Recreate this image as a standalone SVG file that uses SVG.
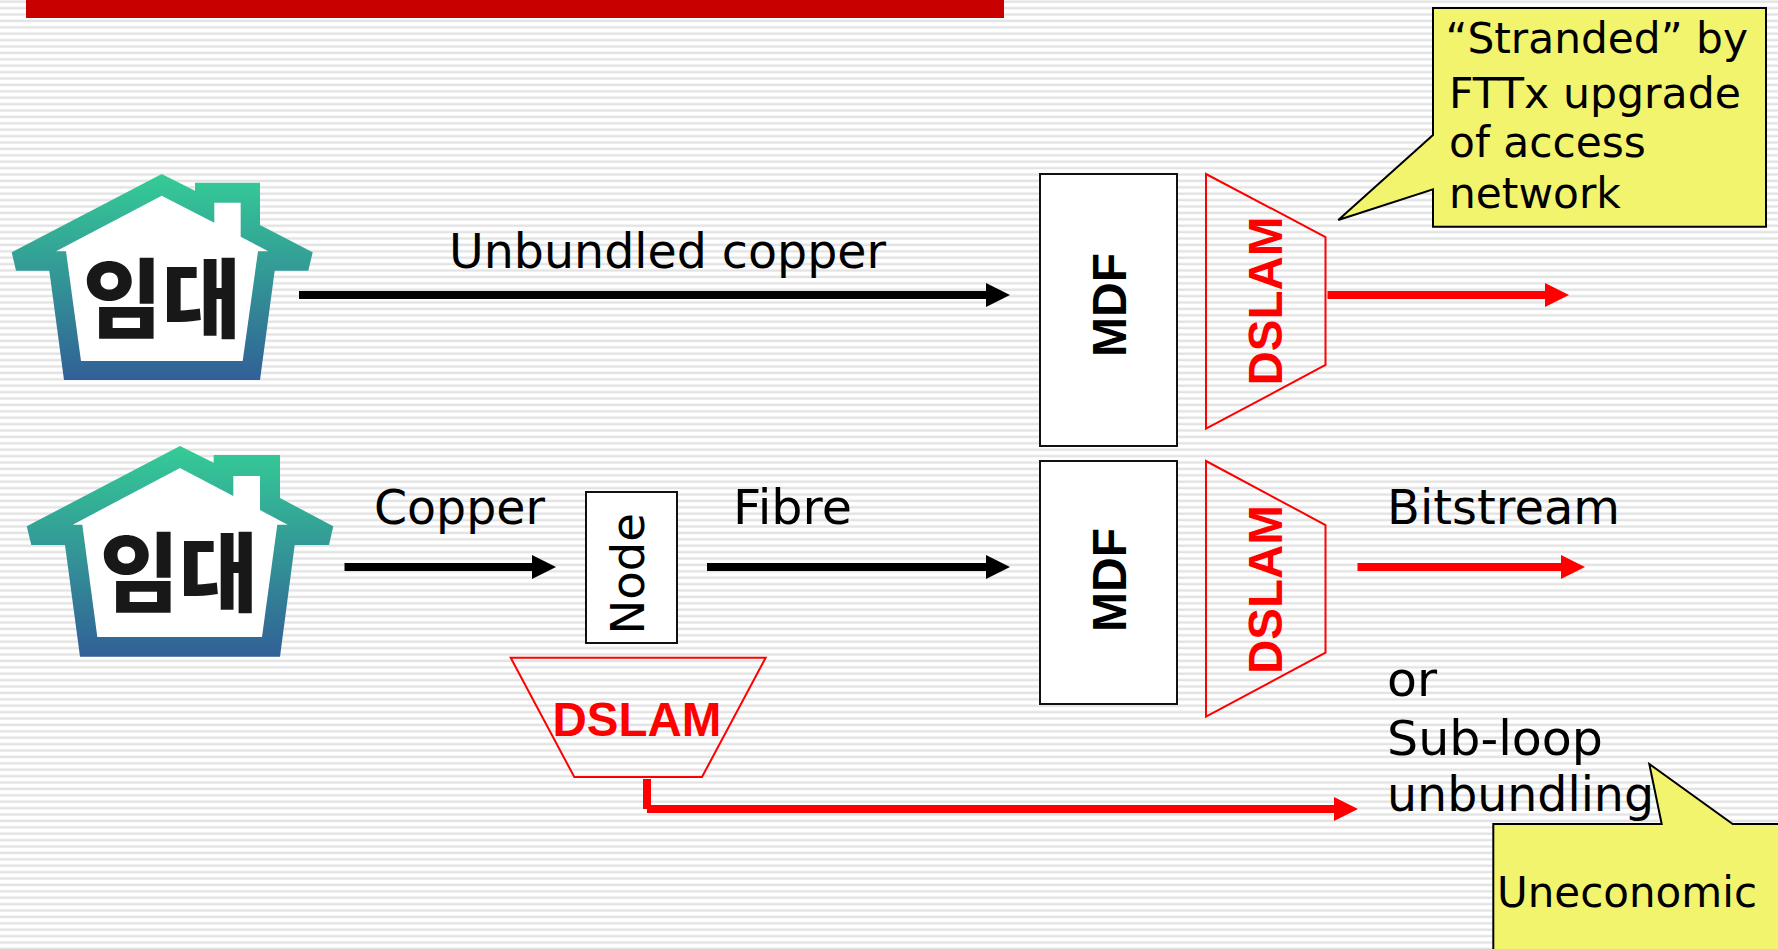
<svg xmlns="http://www.w3.org/2000/svg" width="1778" height="949" viewBox="0 0 1778 949">
<style>
text{font-family:"DejaVu Sans","Noto Sans",sans-serif;fill:#000}
.lbl{font-size:47.500px}
.cal{font-size:42.300px}
.b{font-family:"Liberation Sans",Arial,sans-serif;font-weight:700;font-size:47.500px}
.red{fill:#f00}
.box{fill:#fff;stroke:#111;stroke-width:2}
.dslam{fill:none;stroke:#f00;stroke-width:2}
.callout{fill:#f2f46e;stroke:#000;stroke-width:2}
.k{font-family:"Noto Sans CJK KR",sans-serif;font-weight:900;font-size:86px;fill:#181818}
.blk{stroke:#000;stroke-width:8;fill:none}
.rl{stroke:#f00;stroke-width:8;fill:none}
.in{fill:#fff}
</style>
<defs>
<pattern id="st" width="10" height="6.4" patternUnits="userSpaceOnUse">
<rect width="10" height="6.4" fill="#fff"/>
<rect y="0.5" width="10" height="2.4" fill="#e3e3e3"/>
</pattern>
<linearGradient id="hg" x1="0" y1="0" x2="0" y2="1"><stop offset="0" stop-color="#35cc96"/><stop offset="1" stop-color="#316097"/></linearGradient>
<marker id="ab" markerUnits="userSpaceOnUse" markerWidth="24" markerHeight="24" refX="0" refY="12" orient="auto"><path d="M0 0L24 12L0 24Z" fill="#000"/></marker>
<marker id="ar" markerUnits="userSpaceOnUse" markerWidth="24" markerHeight="24" refX="0" refY="12" orient="auto"><path d="M0 0L24 12L0 24Z" fill="#f00"/></marker>
</defs>
<rect width="1778" height="949" fill="url(#st)"/>
<rect x="26" y="0" width="978" height="18" fill="#c80000"/>
<g id="house1">
<path class="in" d="M161.700 195.700L214.300 222.700V202.700H240.700V236.700L268.300 251.300H258L242.700 361H81L66 251.300H56Z"/>
<path fill="url(#hg)" fill-rule="evenodd" d="M161.700 174L195 190.700V182.700H260V225L312.700 252.300L308.300 270.700H274.700L260 380H64L49.300 270.700H16L11.700 252.300ZM161.700 195.700L214.300 222.700V202.700H240.700V236.700L268.300 251.300H258L242.700 361H81L66 251.300H56Z"/>
<text class="k" x="83" y="331">임대</text>
</g>
<g id="house2">
<path class="in" d="M180 468L233.300 496V476H260V510L287.700 524.700H277.300L262 637H97.300L82.300 524.700H72.700Z"/>
<path fill="url(#hg)" fill-rule="evenodd" d="M180 446L213.700 462.700V455H280V498L333.300 526.300L329 545H294.700L280 656.700H80L65 545H31.300L26.700 526.300ZM180 468L233.300 496V476H260V510L287.700 524.700H277.300L262 637H97.300L82.300 524.700H72.700Z"/>
<text class="k" x="100" y="605">임대</text>
</g>
<g id="mdf1"><rect class="box" x="1040" y="174" width="137" height="272"/><text class="b" style="font-size:48px" transform="translate(1125.500 357) rotate(-90)">MDF</text></g>
<g id="dslam1"><polygon class="dslam" points="1206,174 1325.500,237 1325.500,365 1206,428.700"/><text class="b red" transform="translate(1282 385.500) rotate(-90)">DSLAM</text></g>
<g id="mdf2"><rect class="box" x="1040" y="461" width="137" height="243"/><text class="b" style="font-size:48px" transform="translate(1125.500 632) rotate(-90)">MDF</text></g>
<g id="dslam2"><polygon class="dslam" points="1206,461 1325.500,525 1325.500,652.700 1206,716.700"/><text class="b red" transform="translate(1282 674) rotate(-90)">DSLAM</text></g>
<g id="node"><rect class="box" x="586" y="492" width="91" height="151"/><text class="lbl" style="font-size:46.500px" transform="translate(644 634.500) rotate(-90)">Node</text></g>
<g id="dslam3"><polygon class="dslam" points="510.700,657.700 765.700,657.700 702,777 574.300,777"/><text class="b red" x="552.500" y="736">DSLAM</text></g>
<g id="connectors">
<path class="blk" d="M299 295H986" marker-end="url(#ab)"/>
<path class="blk" d="M344.500 567H532" marker-end="url(#ab)"/>
<path class="blk" d="M707 567H986" marker-end="url(#ab)"/>
<path class="rl" d="M1327.500 295H1545" marker-end="url(#ar)"/>
<path class="rl" d="M1357.500 567H1561" marker-end="url(#ar)"/>
<path class="rl" d="M647 779V809"/>
<path class="rl" d="M647 809H1334" marker-end="url(#ar)"/>
</g>
<g id="labels">
<text class="lbl" x="449" y="268" textLength="437" lengthAdjust="spacingAndGlyphs">Unbundled copper</text>
<text class="lbl" x="374" y="523.500" textLength="171" lengthAdjust="spacingAndGlyphs">Copper</text>
<text class="lbl" x="733" y="523.500" textLength="119" lengthAdjust="spacingAndGlyphs">Fibre</text>
<text class="lbl" x="1387" y="523.500" textLength="233" lengthAdjust="spacingAndGlyphs">Bitstream</text>
<text class="lbl" x="1387" y="695.500" textLength="50" lengthAdjust="spacingAndGlyphs">or</text>
<text class="lbl" x="1387" y="755" textLength="216" lengthAdjust="spacingAndGlyphs">Sub-loop</text>
<text class="lbl" x="1387" y="811" textLength="267" lengthAdjust="spacingAndGlyphs">unbundling</text>
</g>
<g id="callout1"><polygon class="callout" points="1433,8 1766,8 1766,226.700 1433,226.700 1433,189.300 1338.300,220 1433,135"/>
<text class="cal" x="1445.500" y="53">“Stranded” by</text><text class="cal" x="1449" y="108" textLength="292" lengthAdjust="spacingAndGlyphs">FTTx upgrade</text><text class="cal" x="1449" y="157">of access</text><text class="cal" x="1449" y="208">network</text></g>
<g id="callout2"><polygon class="callout" points="1493.300,824 1661.700,824 1649.300,764 1732.700,824 1790,824 1790,960 1493.300,960"/>
<text class="cal" style="font-size:42px" x="1497" y="907">Uneconomic</text></g>
</svg>
